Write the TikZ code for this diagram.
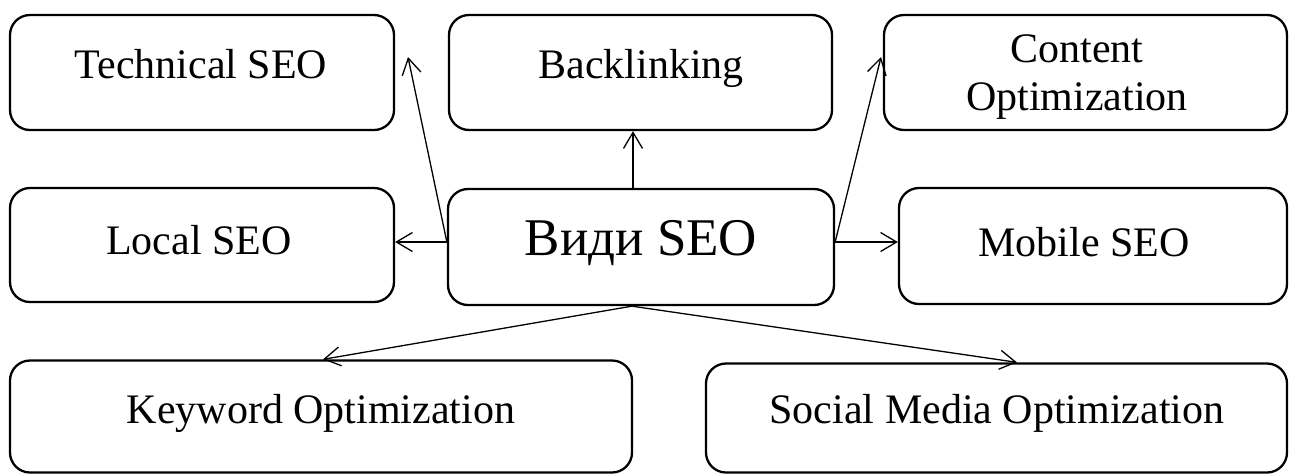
\documentclass[tikz,border=0pt]{standalone}
\usepackage{fontspec}
\setmainfont{Liberation Serif}
\usetikzlibrary{arrows.meta}
\begin{document}
\begin{tikzpicture}[x=1pt,y=-1pt,
  box/.style={draw, line width=2.3pt, rounded corners=20pt, inner sep=0pt},
  lbl/.style={anchor=base, inner sep=0pt, font=\fontsize{42}{48}\selectfont},
  hublbl/.style={anchor=base, inner sep=0pt, font=\fontsize{53}{60}\selectfont},
  link/.style={line width=1.3pt,
    -{Straight Barb[length=16pt,width=19pt,line width=1.3pt]}}]
\useasboundingbox (0,0) rectangle (1297,475);

% boxes
\node[box, minimum width=384pt, minimum height=115pt] (tech)  at (202,72.5) {};
\node[box, minimum width=383pt, minimum height=115pt] (back)  at (640.5,72.5) {};
\node[box, minimum width=403pt, minimum height=115pt] (cont)  at (1085.5,72.5) {};
\node[box, minimum width=384pt, minimum height=114pt] (local) at (202,245) {};
\node[box, minimum width=386pt, minimum height=116pt] (hub)   at (641,247) {};
\node[box, minimum width=388pt, minimum height=116pt] (mob)   at (1093,246) {};
\node[box, minimum width=622pt, minimum height=112pt] (key)   at (321,416.5) {};
\node[box, minimum width=581pt, minimum height=109pt] (soc)   at (996.5,418) {};

% labels
\node[lbl] (techT)  at (201,78)   {Technical SEO};
\node[lbl] (backT)  at (641,78)   {Backlinking};
\node[lbl] (contT1) at (1077,62)  {Content};
\node[lbl] (contT2) at (1077,110) {Optimization};
\node[lbl] (localT) at (199,254)  {Local SEO};
\node[hublbl] (hubT) at (641,255) {Види SEO};
\node[lbl] (mobT)   at (1084,256) {Mobile SEO};
\node[lbl] (keyT)   at (321,423)  {Keyword Optimization};
\node[lbl] (socT)   at (997,423)  {Social Media Optimization};

% free arrow ends in the gaps between the top boxes
\coordinate (tipTech) at (408,57);
\coordinate (tipCont) at (881,57);

% connectors
\draw[link] ([yshift=5pt]hub.west) -- (tipTech);
\draw[link] ([yshift=5pt]hub.west) -- ([yshift=3pt]local.east);
\draw[link] ([xshift=-8pt]hub.north) -- ([xshift=-7.5pt]back.south);
\draw[link] ([yshift=5pt]hub.east) -- (tipCont);
\draw[link] ([yshift=5pt]hub.east) -- ([yshift=4pt]mob.west);
\draw[link] ([xshift=-9pt]hub.south) -- ([xshift=2pt]key.north);
\draw[link] ([xshift=-9pt]hub.south) -- ([xshift=20.5pt]soc.north);
\end{tikzpicture}
\end{document}
